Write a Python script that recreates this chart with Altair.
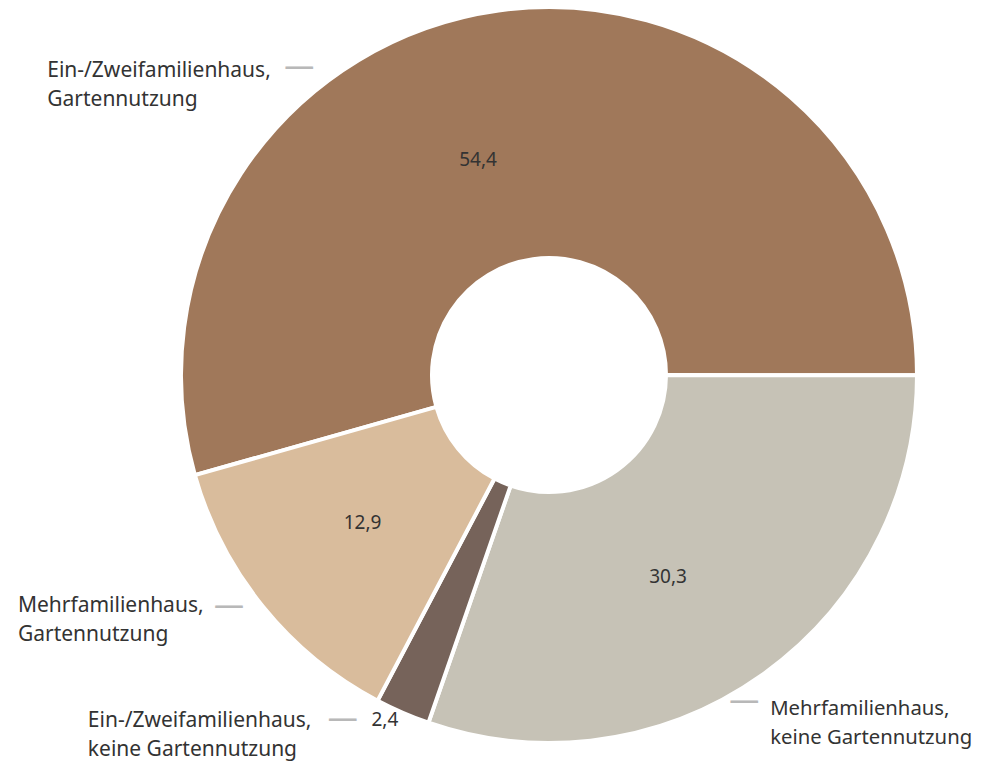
import math
import altair as alt
import pandas as pd

# ---- data ----
categories = [
    "Ein-/Zweifamilienhaus,\nGartennutzung",
    "Mehrfamilienhaus,\nkeine Gartennutzung",
    "Ein-/Zweifamilienhaus,\nkeine Gartennutzung",
    "Mehrfamilienhaus,\nGartennutzung",
]
values = [54.4, 30.3, 2.4, 12.9]
value_labels = ["54,4", "30,3", "2,4", "12,9"]

# ---- style ----
colors = ["#A0785A", "#C6C2B6", "#76635A", "#D9BC9C"]
FONT = "Noto Sans"
TEXT_COLOR = "#333333"
W, H = 846, 728
R_OUT, R_IN = 368, 117
START = math.radians(254.2)

df = pd.DataFrame({"cat": categories, "value": values, "lab": value_labels,
                   "idx": list(range(len(values)))})
total = float(sum(values))

theta_scale = alt.Scale(domain=[0, total], range=[START, START + 2 * math.pi])

base = (
    alt.Chart(df)
    .transform_window(cum="sum(value)", sort=[alt.SortField("idx")])
    .transform_calculate(start="datum.cum - datum.value",
                         mid="datum.cum - datum.value / 2")
)

arcs = base.mark_arc(radius=R_OUT, radius2=R_IN, stroke="white", strokeWidth=4).encode(
    theta=alt.Theta("start:Q", scale=theta_scale),
    theta2="cum:Q",
    color=alt.Color("cat:N", scale=alt.Scale(domain=categories, range=colors), legend=None),
)


def txt(i, field, radius, dx, dy, size, color=TEXT_COLOR, align="center", const=None):
    m = base.transform_filter(alt.datum.idx == i).mark_text(
        radius=radius, dx=dx, dy=dy, align=align, baseline="middle",
        font=FONT, fontSize=size, color=color, lineBreak="\n", lineHeight=29,
    )
    enc = dict(theta=alt.Theta("mid:Q", scale=theta_scale))
    if const is not None:
        enc["text"] = alt.value(const)
    else:
        enc["text"] = alt.Text(field + ":N")
    return m.encode(**enc)


LEAD = "#B8B8B8"
DASH = "\u2014"
layers = [arcs]
# value labels
layers.append(txt(0, "lab", 240, -38, 23, 19))
layers.append(txt(1, "lab", 240, -20, 6, 19))
layers.append(txt(3, "lab", 240, 0, -3, 19))
layers.append(txt(2, "lab", 385, -11, -8, 19))
# category labels
layers.append(txt(0, "cat", 385, -449, 77, 21, align="left"))
layers.append(txt(3, "cat", 385, -232, -11, 21, align="left"))
layers.append(txt(2, "cat", 385, -308, -7, 21, align="left"))
layers.append(txt(1, "cat", 385, -2, 20, 20.3, align="left"))
# leader lines
layers.append(txt(0, "cat", 385, -197, 73, 30, color=LEAD, const=DASH))
layers.append(txt(3, "cat", 385, -21, -11, 30, color=LEAD, const=DASH))
layers.append(txt(2, "cat", 385, -53, -9, 30, color=LEAD, const=DASH))
layers.append(txt(1, "cat", 385, -28, 12, 30, color=LEAD, const=DASH))

chart = (
    alt.layer(*layers)
    .properties(width=W, height=H,
                padding={"left": 118, "top": 3, "right": 1, "bottom": 27},
                autosize=alt.AutoSizeParams(type="none"))
    .configure_view(stroke=None)
)

chart.save("out.html", embed_options={"renderer": "svg", "actions": False})
